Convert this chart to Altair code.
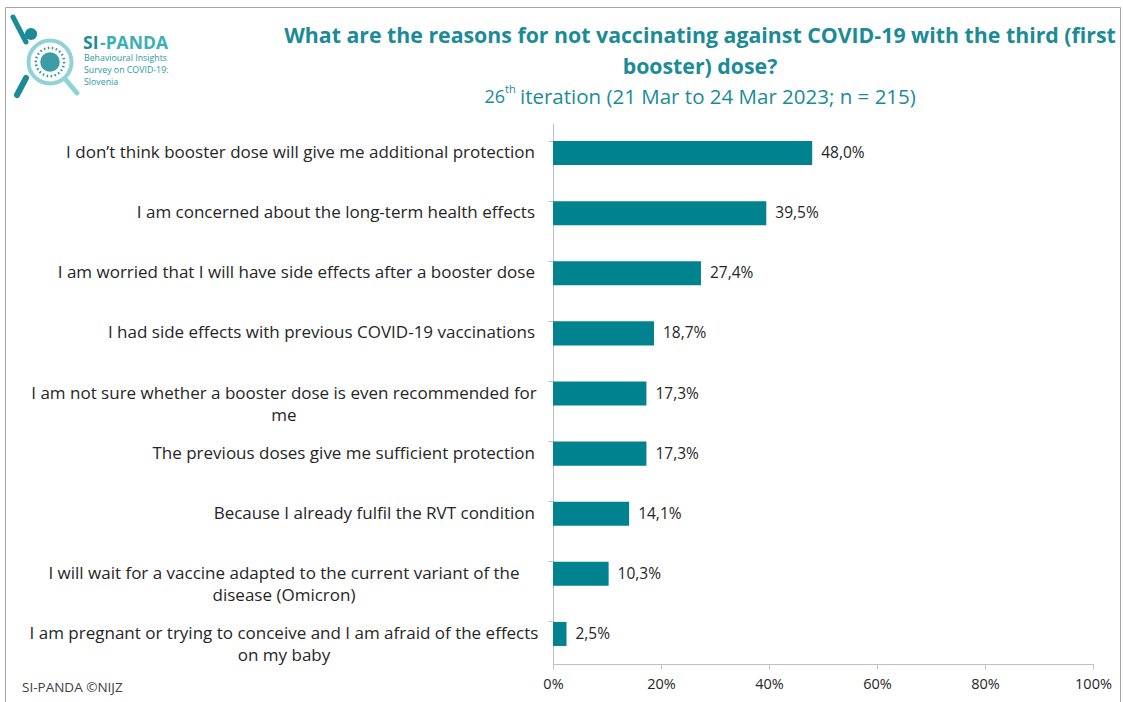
import altair as alt
import pandas as pd

# ---- data ----
line1 = [
    "I don\u2019t think booster dose will give me additional protection",
    "I am concerned about the long-term health effects",
    "I am worried that I will have side effects after a booster dose",
    "I had side effects with previous COVID-19 vaccinations",
    "I am not sure whether a booster dose is even recommended for",
    "The previous doses give me sufficient protection",
    "Because I already fulfil the RVT condition",
    "I will wait for a vaccine adapted to the current variant of the",
    "I am pregnant or trying to conceive and I am afraid of the effects",
]
line2 = ["", "", "", "", "me", "", "", "disease (Omicron)", "on my baby"]
values = [48.0, 39.5, 27.4, 18.7, 17.3, 17.3, 14.1, 10.3, 2.5]
x_ticks = [0, 20, 40, 60, 80, 100]

title_line1 = "What are the reasons for not vaccinating against COVID-19 with the third (first"
title_line2 = "booster) dose?"
sub_num = "26"
sub_sup = "th"
sub_rest = "iteration (21 Mar to 24 Mar 2023; n = 215)"
footer = "SI-PANDA \u00a9NIJZ"
logo_lines = "Behavioural Insights\nSurvey on COVID-19:\nSlovenia"

keys = [(a + " " + b).strip() for a, b in zip(line1, line2)]
df = pd.DataFrame({
    "key": keys,
    "line1": line1,
    "line2": line2,
    "value": values,
    "label": [f"{v:.1f}".replace(".", ",") + "%" for v in values],
})

# ---- styles ----
FONT = "Open Sans"
BAR = "#00838F"
TEAL = "#1B8B97"
LIGHT = "#8FD3D6"
TXT = "#262626"
AX = "#BFBFBF"
OX, OY = 553, 123  # plot origin in page pixels (for decoration only)


def px(v):
    return v - OX


def py(v):
    return v - OY


def one(t=""):
    return alt.Data(values=[{"t": t}])


x_enc = alt.X(
    "value:Q",
    scale=alt.Scale(domain=[0, 100], nice=False),
    axis=alt.Axis(values=x_ticks, labelExpr="datum.value + '%'", grid=False,
                  tickSize=5, labelPadding=8, labelFontSize=14.5, labelFont=FONT,
                  labelColor=TXT, domainColor=AX, tickColor=AX, title=None,
                  labelFlush=False, labelOverlap=False),
)
y_enc = alt.Y(
    "key:N", sort=keys,
    scale=alt.Scale(paddingInner=0.6, paddingOuter=0.3),
    axis=alt.Axis(labels=False, title=None, tickSize=5, bandPosition=0,
                  domainColor=AX, tickColor=AX),
)

bars = alt.Chart(df).mark_bar(color=BAR).encode(x=x_enc, y=y_enc)

vals = alt.Chart(df).mark_text(align="left", baseline="middle", dx=9, fontSize=15.5,
                               font=FONT, color=TXT).encode(
    x="value:Q", y=alt.Y("key:N", sort=keys), text="label:N")

single = alt.Chart(df).transform_filter("datum.line2 == ''").mark_text(
    align="right", baseline="middle", fontSize=17, font=FONT, color=TXT).encode(
    x=alt.value(-18), y=alt.Y("key:N", sort=keys), text="line1:N")

multi = alt.Chart(df).transform_filter("datum.line2 != ''").transform_calculate(
    txt="datum.line1 + '\\n' + datum.line2").mark_text(
    align="center", baseline="middle", fontSize=17, font=FONT, color=TXT,
    lineBreak="\n", lineHeight=22).encode(
    x=alt.value(-269), y=alt.Y("key:N", sort=keys), text="txt:N")

# ---- titles ----
t1 = alt.Chart(one(title_line1)).mark_text(
    align="center", baseline="middle", fontSize=21.3, fontWeight="bold", font=FONT,
    color=TEAL).encode(x=alt.value(px(700)), y=alt.value(py(37)), text="t:N")
t2 = alt.Chart(one(title_line2)).mark_text(
    align="center", baseline="middle", fontSize=21.3, fontWeight="bold", font=FONT,
    color=TEAL).encode(x=alt.value(px(700)), y=alt.value(py(68)), text="t:N")
s1 = alt.Chart(one(sub_num)).mark_text(
    align="right", baseline="middle", fontSize=18, font=FONT, color=TEAL).encode(
    x=alt.value(px(505)), y=alt.value(py(98)), text="t:N")
s2 = alt.Chart(one(sub_sup)).mark_text(
    align="left", baseline="middle", fontSize=11, font=FONT, color=TEAL).encode(
    x=alt.value(px(505)), y=alt.value(py(90)), text="t:N")
s3 = alt.Chart(one(sub_rest)).mark_text(
    align="left", baseline="middle", fontSize=20.5, font=FONT, color=TEAL).encode(
    x=alt.value(px(520)), y=alt.value(py(98)), text="t:N")
foot = alt.Chart(one(footer)).mark_text(
    align="left", baseline="middle", fontSize=13.5, font=FONT, color="#404040").encode(
    x=alt.value(px(22)), y=alt.value(py(688)), text="t:N")

# ---- frame ----
frame = alt.Chart(one()).mark_rect(fillOpacity=0, stroke="#A6A6A6", strokeWidth=1).encode(
    x=alt.value(px(5.5)), x2=alt.value(px(1120.5)), y=alt.value(py(7.5)), y2=alt.value(py(720)))

# ---- logo ----
ring = alt.Chart(one()).mark_point(shape="circle", filled=False, size=1849, strokeWidth=4,
                                   color=LIGHT, opacity=1).encode(
    x=alt.value(px(50)), y=alt.value(py(62)))
virus = alt.Chart(one()).mark_point(shape="circle", filled=True, size=380, color=TEAL,
                                    opacity=0.85).encode(
    x=alt.value(px(50)), y=alt.value(py(62)))
virus_dots = alt.Chart(one()).mark_point(shape="circle", filled=False, size=800, strokeWidth=2.5,
                                         strokeDash=[1.5, 2.5], color=TEAL, opacity=0.9).encode(
    x=alt.value(px(50)), y=alt.value(py(62)))
handle = alt.Chart(one()).mark_rule(color=LIGHT, strokeWidth=5, strokeCap="round").encode(
    x=alt.value(px(66)), x2=alt.value(px(77)), y=alt.value(py(80)), y2=alt.value(py(93)))
head = alt.Chart(one()).mark_point(shape="circle", filled=True, size=150, color=TEAL,
                                   opacity=1).encode(
    x=alt.value(px(31)), y=alt.value(py(34)))
arm = alt.Chart(one()).mark_rule(color=TEAL, strokeWidth=5, strokeCap="round").encode(
    x=alt.value(px(13)), x2=alt.value(px(26)), y=alt.value(py(17)), y2=alt.value(py(42)))
leg = alt.Chart(one()).mark_rule(color=TEAL, strokeWidth=6, strokeCap="round").encode(
    x=alt.value(px(26)), x2=alt.value(px(17)), y=alt.value(py(78)), y2=alt.value(py(95)))
si = alt.Chart(one("SI")).mark_text(
    align="left", baseline="middle", fontSize=17.5, fontWeight="bold", font=FONT, color=TEAL).encode(
    x=alt.value(px(83)), y=alt.value(py(44)), text="t:N")
panda = alt.Chart(one("-PANDA")).mark_text(
    align="left", baseline="middle", fontSize=17.5, fontWeight="bold", font=FONT, color="#3AAFB5").encode(
    x=alt.value(px(100)), y=alt.value(py(44)), text="t:N")
logo_txt = alt.Chart(one(logo_lines)).mark_text(
    align="left", baseline="top", fontSize=8.8, font=FONT, color="#2A9AA3",
    lineBreak="\n", lineHeight=12).encode(
    x=alt.value(px(84)), y=alt.value(py(54)), text="t:N")

chart = alt.layer(
    bars, vals, single, multi, t1, t2, s1, s2, s3, foot, frame,
    ring, virus, virus_dots, handle, head, arm, leg, si, panda, logo_txt,
).properties(
    width=540, height=541,
    autosize=alt.AutoSizeParams(type="none"),
    padding={"left": OX, "top": OY, "right": 30, "bottom": 38},
    background="white",
).configure_view(stroke=None)

chart.save("out.html", embed_options={"renderer": "svg", "actions": False})
